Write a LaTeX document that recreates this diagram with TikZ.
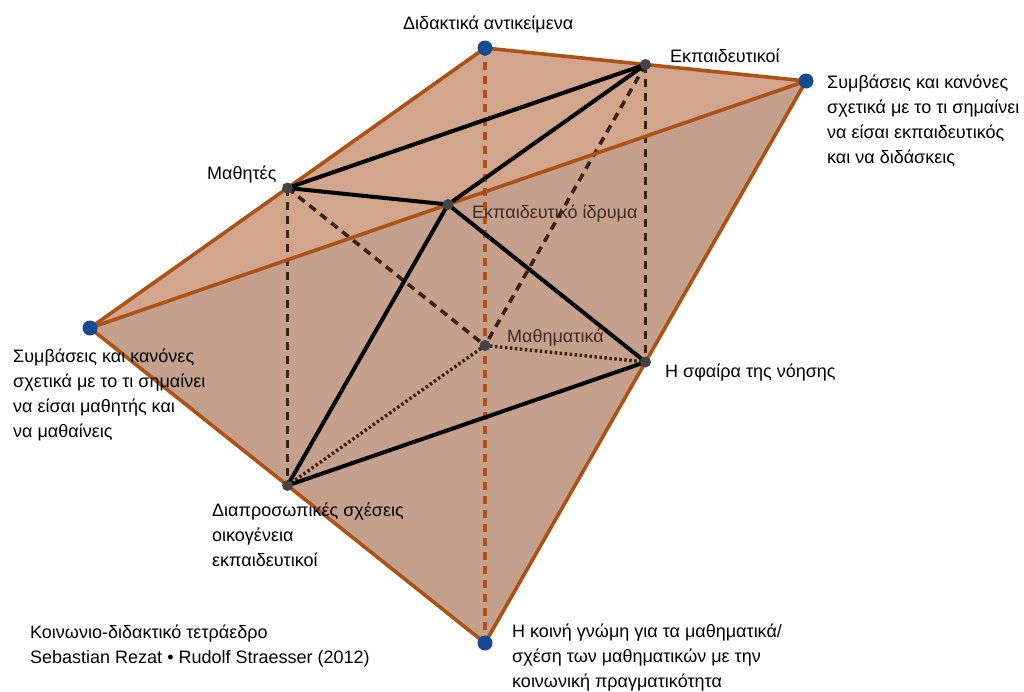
\documentclass[tikz,border=0pt]{standalone}
\usepackage{fontspec}
\setmainfont{Liberation Sans}
\usetikzlibrary{calc}

\definecolor{edgebrown}{RGB}{172,82,22}
\definecolor{faceup}{RGB}{210,166,140}
\definecolor{facelow}{RGB}{196,160,141}
\definecolor{hiddenbrown}{RGB}{58,34,18}
\definecolor{ptblue}{RGB}{22,75,145}
\definecolor{ptgray}{RGB}{68,68,68}
\definecolor{behindtext}{RGB}{62,44,34}

\begin{document}
\begin{tikzpicture}[x=1pt,y=-1pt,
    edge/.style={line width=3.6pt,edgebrown,line cap=round},
    hiddenedge/.style={line width=3.6pt,edgebrown,dash pattern=on 8pt off 6pt},
    solidlink/.style={line width=4pt,black,line cap=round},
    dashlink/.style={line width=3.6pt,hiddenbrown,dash pattern=on 8pt off 6pt},
    dotlink/.style={line width=3.4pt,hiddenbrown,dash pattern=on 2.5pt off 2.5pt},
    outerpt/.style={circle,fill=ptblue,inner sep=0pt,minimum size=15pt},
    innerpt/.style={circle,fill=ptgray,inner sep=0pt,minimum size=11pt},
    lbl/.style={font=\fontsize{18}{25}\selectfont,anchor=base west,align=left,inner sep=0pt},
  ]
        \fill[white] (0,0) rectangle (1024,691);
        \useasboundingbox (0,0) rectangle (1024,691);

        % outer tetrahedron
        \coordinate (A) at (485,48);
        \coordinate (B) at (806,81);
        \coordinate (C) at (90,328);
        \coordinate (D) at (485,643);
        % inner points = edge midpoints
        \coordinate (E) at ($(A)!0.5!(B)$);
        \coordinate (M) at ($(A)!0.5!(C)$);
        \coordinate (I) at ($(C)!0.5!(B)$);
        \coordinate (Ma) at ($(A)!0.5!(D)$);
        \coordinate (S) at ($(B)!0.5!(D)$);
        \coordinate (P) at ($(C)!0.5!(D)$);

        \fill[faceup] (A) -- (B) -- (C) -- cycle;
        \fill[facelow] (C) -- (B) -- (D) -- cycle;

        \draw[hiddenedge] (A) -- (D);
        \foreach \u/\v in {M/P,E/S,M/Ma,E/Ma,M/E}
        \draw[dashlink] (\u) -- (\v);
        \foreach \v in {S,P}
        \draw[dotlink] (Ma) -- (\v);

        \foreach \u/\v in {A/B,A/C,B/D,C/D,C/B}
        \draw[edge] (\u) -- (\v);
        \foreach \u/\v in {M/E,M/I,I/E,I/S,I/P,P/S}
        \draw[solidlink] (\u) -- (\v);

        \foreach \p in {A,B,C,D}
        \node[outerpt] (pt\p) at (\p) {};
        \foreach \p in {E,M,I,Ma,S,P}
        \node[innerpt] (pt\p) at (\p) {};

        % multi-line labels: base = last line
        \node[lbl] (objects) at (403,29) {Διδακτικά αντικείμενα};
        \node[lbl] (teachers) at (670,62) {Εκπαιδευτικοί};
        \node[lbl] (teachrules) at (827,163) {Συμβάσεις και κανόνες\\σχετικά με το τι σημαίνει\\να είσαι εκπαιδευτικός\\και να διδάσκεις};
        \node[lbl] (students) at (207,179) {Μαθητές};
        \node[lbl,text=behindtext] (institution) at (472,218) {Εκπαιδευτικό ίδρυμα};
        \node[lbl,text=behindtext] (maths) at (507,342) {Μαθηματικά};
        \node[lbl] (noosphere) at (665,377) {Η σφαίρα της νόησης};
        \node[lbl] (studrules) at (13,437) {Συμβάσεις και κανόνες\\σχετικά με το τι σημαίνει\\να είσαι μαθητής και\\να μαθαίνεις};
        \node[lbl] (relations) at (212,566) {Διαπροσωπικές σχέσεις\\οικογένεια\\εκπαιδευτικοί};
        \node[lbl] (opinion) at (512,687) {Η κοινή γνώμη για τα μαθηματικά/\\σχέση των μαθηματικών με την\\κοινωνική πραγματικότητα};
        \node[lbl] (title) at (30,663) {Κοινωνιο-διδακτικό τετράεδρο\\Sebastian Rezat • Rudolf Straesser (2012)};

%\node[lbl] at (0,0) {test};
\end{tikzpicture}
\end{document}
